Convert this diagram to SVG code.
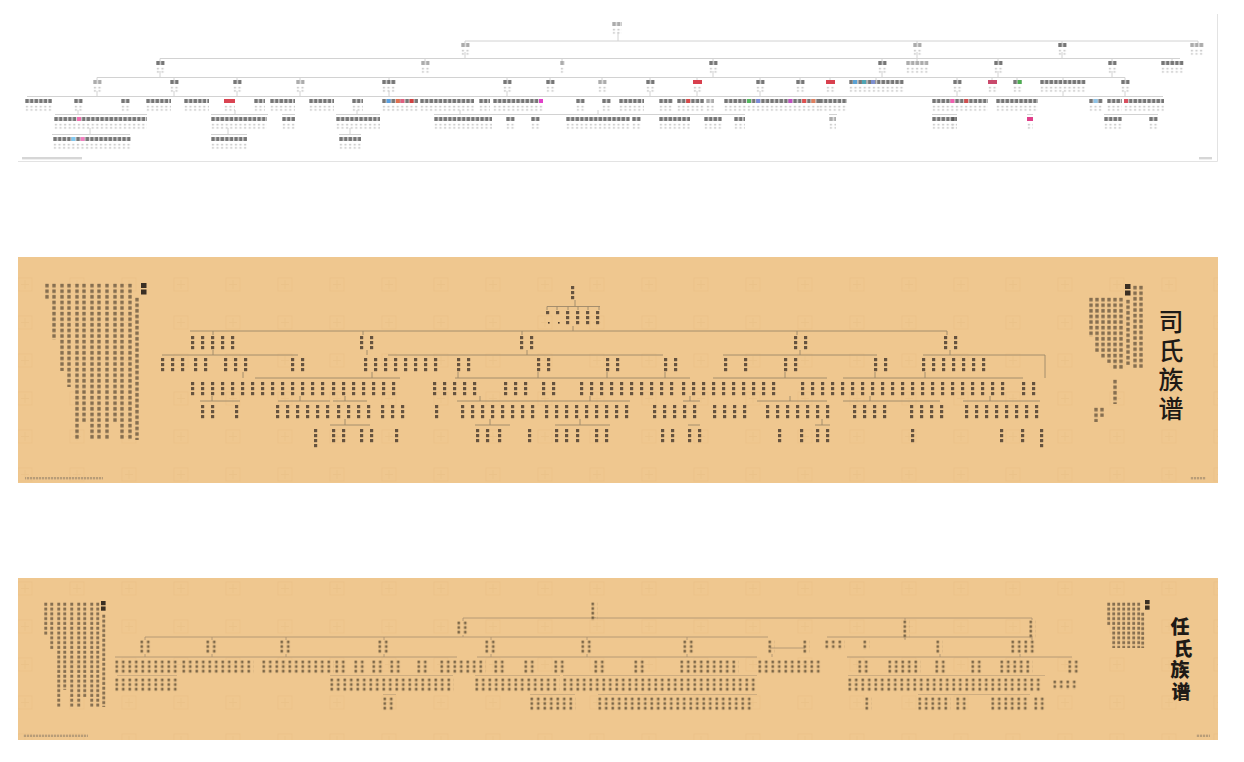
<svg xmlns="http://www.w3.org/2000/svg" width="1244" height="762" viewBox="0 0 1244 762">
<defs>
<style>
.l1{stroke:#d2d2d2;stroke-width:1;fill:none}
.l2{stroke:#9c8869;stroke-width:0.9;fill:none}
.l3{stroke:#a8916f;stroke-width:0.8;fill:none}
.nm{fill:url(#p1n)}
.ng{fill:url(#p1g)}
.sb{fill:url(#p1s)}
.c2{fill:url(#p2)}
.c3{fill:url(#p3)}
.tx{fill:url(#ptx)}
.tx3{fill:url(#ptx3)}
.hd{fill:#3a2f24}
.ft{fill:url(#pft)}
.ttl{font-family:"Liberation Sans","Noto Sans CJK SC","Noto Sans CJK JP",sans-serif;fill:#1e1a16}
</style>
<pattern id="p1n" width="4.6" height="6" patternUnits="userSpaceOnUse"><rect x="0.3" y="0" width="3.6" height="4" fill="#555555" opacity="0.8"/></pattern>
<pattern id="p1g" width="4.6" height="6" patternUnits="userSpaceOnUse"><rect x="0.3" y="0" width="3.6" height="4" fill="#acacac"/></pattern>
<pattern id="p1s" width="4.6" height="3.2" patternUnits="userSpaceOnUse"><rect x="0.8" y="0.6" width="2.2" height="1.4" fill="#c9c9c9"/></pattern>
<pattern id="p2" width="10" height="5" patternUnits="userSpaceOnUse"><rect x="1" y="1" width="3.2" height="3.2" fill="#43362a" opacity="0.8"/></pattern>
<pattern id="p3" width="6.5" height="4.6" patternUnits="userSpaceOnUse"><rect x="0.5" y="0.6" width="2.5" height="2.7" fill="#54452f" opacity="0.75"/></pattern>
<pattern id="ptx" width="8" height="5.6" patternUnits="userSpaceOnUse"><rect x="0.3" y="0.8" width="3.4" height="3.6" fill="#3f3327" opacity="0.6"/></pattern>
<pattern id="ptx3" width="6" height="4.8" patternUnits="userSpaceOnUse"><rect x="0.3" y="0.7" width="2.9" height="3" fill="#3f3327" opacity="0.6"/></pattern>
<pattern id="pft" width="3" height="3" patternUnits="userSpaceOnUse"><rect x="0" y="0" width="2.2" height="2.4" fill="#8a7a66" opacity="0.55"/></pattern>
<pattern id="wm" width="52" height="38" patternUnits="userSpaceOnUse"><rect x="18" y="12" width="14" height="13" fill="none" stroke="#dcae72" stroke-width="1.1" opacity="0.2"/><path d="M21 18.5H29M25 14V23" stroke="#dcae72" stroke-width="1" opacity="0.2"/></pattern>
</defs>
<rect width="1244" height="762" fill="#ffffff"/>

<!-- ===================== PANEL 1 (white chart) ===================== -->
<g id="panel1">
<path d="M18 161.5H1217.5V14" stroke="#e3e3e3" stroke-width="1" fill="none"/>
<g id="p1-connectors">
<path class="l1" d="M618 32V41 M465 41H1198 M465 41V43 M917 41V43 M1062 41V43 M1198 41V43 M465 52V58.5 M917 52V58.5 M1062 52V58.5 M160 58.5H1180 M160 58.5V61 M425 58.5V61 M562 58.5V61 M713 58.5V61 M882 58.5V61 M917 58.5V61 M998 58.5V61 M1112 58.5V61 M1172 58.5V61 M160 71V77.5 M713 71V77.5 M882 71V77.5 M998 71V77.5 M1112 71V77.5 M97 77.5H1125 M97 77.5V80 M174 77.5V80 M237 77.5V80 M300 77.5V80 M389 77.5V80 M507 77.5V80 M550 77.5V80 M602 77.5V80 M650 77.5V80 M697 77.5V80 M760 77.5V80 M800 77.5V80 M830 77.5V80 M876 77.5V80 M957 77.5V80 M992 77.5V80 M1017 77.5V80 M1063 77.5V80 M1125 77.5V80 M27 96.5H1163 M97 91V96.5 M174 91V96.5 M237 91V96.5 M300 91V96.5 M389 91V96.5 M507 91V96.5 M650 91V96.5 M697 91V96.5 M760 91V96.5 M957 91V96.5 M1063 91V96.5 M1125 91V96.5 M55 114.5H147 M211 114.5H268 M282 114.5H295 M336 114.5H380 M434 114.5H745 M829 114.5H837 M932 114.5H957 M1027 114.5H1033 M1104 114.5H1158 M78 110V114.5 M235 110V114.5 M357 110V114.5 M460 110V114.5 M598 110V114.5 M52 134.5H130 M211 134.5H247 M339 134.5H361 M90 128V134.5 M228 128V134.5 M350 128V134.5"/>
</g>
<g id="p1-l0"><g id="n-root" transform="translate(612,22)"><rect class="ng" width="10" height="4"/><rect class="sb" y="6" width="10" height="7"/></g></g>
<g id="p1-l1">
<g id="n1a" transform="translate(461,43)"><rect class="ng" width="9" height="4"/><rect class="sb" y="6" width="9" height="7"/></g>
<g id="n1b" transform="translate(913,43)"><rect class="ng" width="9" height="4"/><rect class="sb" y="6" width="9" height="7"/></g>
<g id="n1c" transform="translate(1058,43)"><rect class="nm" width="9" height="4"/><rect class="sb" y="6" width="9" height="7"/></g>
<g id="n1d" transform="translate(1190,43)"><rect class="ng" width="14" height="4"/><rect class="sb" y="6" width="14" height="7"/></g>
</g>
<g id="p1-l2">
<g transform="translate(156,61)"><rect class="nm" width="9" height="4"/><rect class="sb" y="6" width="9" height="7"/></g>
<g transform="translate(421,61)"><rect class="ng" width="9" height="4"/><rect class="sb" y="6" width="9" height="7"/></g>
<g transform="translate(560,61)"><rect class="ng" width="4.6" height="4"/><rect class="sb" y="6" width="4.6" height="7"/></g>
<g transform="translate(709,61)"><rect class="nm" width="9" height="4"/><rect class="sb" y="6" width="9" height="7"/></g>
<g transform="translate(878,61)"><rect class="nm" width="9" height="4"/><rect class="sb" y="6" width="9" height="7"/></g>
<g transform="translate(906,61)"><rect class="ng" width="23" height="4"/><rect class="sb" y="6" width="23" height="7"/></g>
<g transform="translate(994,61)"><rect class="nm" width="9" height="4"/><rect class="sb" y="6" width="9" height="7"/></g>
<g transform="translate(1108,61)"><rect class="nm" width="9" height="4"/><rect class="sb" y="6" width="9" height="7"/></g>
<g transform="translate(1161,61)"><rect class="nm" width="23" height="4"/><rect class="sb" y="6" width="23" height="7"/></g>
</g>
<g id="p1-l3">
<g transform="translate(93,80)"><rect class="ng" width="9" height="4"/><rect class="sb" y="6" width="9" height="7"/></g>
<g transform="translate(170,80)"><rect class="nm" width="9" height="4"/><rect class="sb" y="6" width="9" height="7"/></g>
<g transform="translate(233,80)"><rect class="nm" width="9" height="4"/><rect class="sb" y="6" width="9" height="7"/></g>
<g transform="translate(296,80)"><rect class="ng" width="9" height="4"/><rect class="sb" y="6" width="9" height="7"/></g>
<g transform="translate(382,80)"><rect class="nm" width="14" height="4"/><rect class="sb" y="6" width="14" height="7"/></g>
<g transform="translate(503,80)"><rect class="nm" width="9" height="4"/><rect class="sb" y="6" width="9" height="7"/></g>
<g transform="translate(546,80)"><rect class="nm" width="9" height="4"/><rect class="sb" y="6" width="9" height="7"/></g>
<g transform="translate(598,80)"><rect class="ng" width="9" height="4"/><rect class="sb" y="6" width="9" height="7"/></g>
<g transform="translate(646,80)"><rect class="nm" width="9" height="4"/><rect class="sb" y="6" width="9" height="7"/></g>
<g transform="translate(693,80)"><rect width="9" height="4" fill="#d8404e"/><rect class="sb" y="6" width="9" height="7"/></g>
<g transform="translate(756,80)"><rect class="nm" width="9" height="4"/><rect class="sb" y="6" width="9" height="7"/></g>
<g transform="translate(796,80)"><rect class="nm" width="9" height="4"/><rect class="sb" y="6" width="9" height="7"/></g>
<g transform="translate(826,80)"><rect width="9" height="4" fill="#d8404e"/><rect class="sb" y="6" width="9" height="7"/></g>
<g transform="translate(849,80)"><rect class="nm" width="55" height="4"/><rect x="4" width="4" height="4" fill="#5aa3d6"/><rect x="13" width="4" height="4" fill="#4fa6b5"/><rect x="22" width="4" height="4" fill="#7d8fd0"/><rect class="sb" y="6" width="55" height="7"/></g>
<g transform="translate(953,80)"><rect class="nm" width="9" height="4"/><rect class="sb" y="6" width="9" height="7"/></g>
<g transform="translate(988,80)"><rect width="9" height="4" fill="#c94a6c"/><rect class="sb" y="6" width="9" height="7"/></g>
<g transform="translate(1013,80)"><rect class="nm" width="9" height="4"/><rect x="4.6" width="4" height="4" fill="#4caf50"/><rect class="sb" y="6" width="9" height="7"/></g>
<g transform="translate(1040,80)"><rect class="nm" width="46" height="4"/><rect class="sb" y="6" width="46" height="7"/></g>
<g transform="translate(1121,80)"><rect class="nm" width="9" height="4"/><rect class="sb" y="6" width="9" height="7"/></g>
</g>
<g id="p1-l4">
<g transform="translate(25,99)"><rect class="nm" width="27" height="4"/><rect class="sb" y="6" width="27" height="7"/></g>
<g transform="translate(74,99)"><rect class="nm" width="9" height="4"/><rect class="sb" y="6" width="9" height="7"/></g>
<g transform="translate(121,99)"><rect class="nm" width="9" height="4"/><rect class="sb" y="6" width="9" height="7"/></g>
<g transform="translate(146,99)"><rect class="nm" width="25" height="4"/><rect class="sb" y="6" width="25" height="7"/></g>
<g transform="translate(184,99)"><rect class="nm" width="25" height="4"/><rect class="sb" y="6" width="25" height="7"/></g>
<g transform="translate(224,99)"><rect width="11" height="4" fill="#d94452"/><rect class="sb" y="6" width="11" height="7"/></g>
<g transform="translate(254,99)"><rect class="nm" width="11" height="4"/><rect class="sb" y="6" width="11" height="7"/></g>
<g transform="translate(270,99)"><rect class="nm" width="25" height="4"/><rect class="sb" y="6" width="25" height="7"/></g>
<g transform="translate(309,99)"><rect class="nm" width="25" height="4"/><rect class="sb" y="6" width="25" height="7"/></g>
<g transform="translate(352,99)"><rect class="nm" width="11" height="4"/><rect class="sb" y="6" width="11" height="7"/></g>
<g transform="translate(382,99)"><rect class="nm" width="36" height="4"/><rect x="4.6" width="4" height="4" fill="#5aa0e0"/><rect x="13.8" width="4" height="4" fill="#e07050"/><rect x="18.4" width="4" height="4" fill="#e06080"/><rect x="27.6" width="4" height="4" fill="#d04040"/><rect class="sb" y="6" width="36" height="7"/></g>
<g transform="translate(420,99)"><rect class="nm" width="54" height="4"/><rect class="sb" y="6" width="54" height="7"/></g>
<g transform="translate(479,99)"><rect class="nm" width="11" height="4"/><rect class="sb" y="6" width="11" height="7"/></g>
<g transform="translate(493,99)"><rect class="nm" width="50" height="4"/><rect x="46" width="4" height="4" fill="#e040c8"/><rect class="sb" y="6" width="50" height="7"/></g>
<g transform="translate(576,99)"><rect class="nm" width="9" height="4"/><rect class="sb" y="6" width="9" height="7"/></g>
<g transform="translate(602,99)"><rect class="nm" width="9" height="4"/><rect class="sb" y="6" width="9" height="7"/></g>
<g transform="translate(619,99)"><rect class="nm" width="25" height="4"/><rect class="sb" y="6" width="25" height="7"/></g>
<g transform="translate(659,99)"><rect class="nm" width="14" height="4"/><rect class="sb" y="6" width="14" height="7"/></g>
<g transform="translate(677,99)"><rect class="nm" width="27" height="4"/><rect x="9.2" width="4" height="4" fill="#d84a4a"/><rect class="sb" y="6" width="27" height="7"/></g>
<g transform="translate(706,99)"><rect class="ng" width="8" height="4"/><rect class="sb" y="6" width="8" height="7"/></g>
<g transform="translate(724,99)"><rect class="nm" width="96" height="4"/><rect x="23" width="4" height="4" fill="#55b860"/><rect x="32.2" width="4" height="4" fill="#7a8ad8"/><rect x="64.4" width="4" height="4" fill="#c050c0"/><rect x="78.2" width="4" height="4" fill="#e05050"/><rect x="87.4" width="4" height="4" fill="#e08060"/><rect class="sb" y="6" width="96" height="7"/></g>
<g transform="translate(819,99)"><rect class="nm" width="28" height="4"/><rect class="sb" y="6" width="28" height="7"/></g>
<g transform="translate(932,99)"><rect class="nm" width="56" height="4"/><rect x="18.4" width="4" height="4" fill="#f060b0"/><rect x="32.2" width="4" height="4" fill="#d05050"/><rect class="sb" y="6" width="56" height="7"/></g>
<g transform="translate(996,99)"><rect class="nm" width="42" height="4"/><rect class="sb" y="6" width="42" height="7"/></g>
<g transform="translate(1089,99)"><rect class="nm" width="14" height="4"/><rect x="4.6" width="4" height="4" fill="#8fc4e8"/><rect class="sb" y="6" width="14" height="7"/></g>
<g transform="translate(1107,99)"><rect class="nm" width="15" height="4"/><rect class="sb" y="6" width="15" height="7"/></g>
<g transform="translate(1124,99)"><rect class="nm" width="40" height="4"/><rect x="0" width="4" height="4" fill="#d85060"/><rect class="sb" y="6" width="40" height="7"/></g>
</g>
<g id="p1-l5">
<g transform="translate(54,117)"><rect class="nm" width="93" height="4"/><rect x="23" width="4" height="4" fill="#f070b0"/><rect class="sb" y="6" width="93" height="7"/></g>
<g transform="translate(211,117)"><rect class="nm" width="56" height="4"/><rect class="sb" y="6" width="56" height="7"/></g>
<g transform="translate(282,117)"><rect class="nm" width="13" height="4"/><rect class="sb" y="6" width="13" height="7"/></g>
<g transform="translate(336,117)"><rect class="nm" width="44" height="4"/><rect class="sb" y="6" width="44" height="7"/></g>
<g transform="translate(434,117)"><rect class="nm" width="58" height="4"/><rect class="sb" y="6" width="58" height="7"/></g>
<g transform="translate(506,117)"><rect class="nm" width="9" height="4"/><rect class="sb" y="6" width="9" height="7"/></g>
<g transform="translate(531,117)"><rect class="nm" width="9" height="4"/><rect class="sb" y="6" width="9" height="7"/></g>
<g transform="translate(566,117)"><rect class="nm" width="64" height="4"/><rect class="sb" y="6" width="64" height="7"/></g>
<g transform="translate(632,117)"><rect class="nm" width="9" height="4"/><rect class="sb" y="6" width="9" height="7"/></g>
<g transform="translate(659,117)"><rect class="nm" width="31" height="4"/><rect class="sb" y="6" width="31" height="7"/></g>
<g transform="translate(704,117)"><rect class="nm" width="18" height="4"/><rect class="sb" y="6" width="18" height="7"/></g>
<g transform="translate(734,117)"><rect class="nm" width="11" height="4"/><rect class="sb" y="6" width="11" height="7"/></g>
<g transform="translate(829,117)"><rect class="ng" width="7" height="4"/><rect class="sb" y="6" width="7" height="7"/></g>
<g transform="translate(932,117)"><rect class="nm" width="25" height="4"/><rect class="sb" y="6" width="25" height="7"/></g>
<g transform="translate(951,117)"><rect class="nm" width="5" height="4"/><rect class="sb" y="6" width="5" height="7"/></g>
<g transform="translate(1027,117)"><rect width="6" height="4" fill="#e0408a"/><rect class="sb" y="6" width="6" height="7"/></g>
<g transform="translate(1104,117)"><rect class="nm" width="18" height="4"/><rect class="sb" y="6" width="18" height="7"/></g>
<g transform="translate(1149,117)"><rect class="nm" width="9" height="4"/><rect class="sb" y="6" width="9" height="7"/></g>
</g>
<g id="p1-l6">
<g transform="translate(53,137)"><rect class="nm" width="78" height="4"/><rect x="18.4" width="4" height="4" fill="#80c8f0"/><rect x="27.6" width="4" height="4" fill="#f080c0"/><rect class="sb" y="6" width="78" height="7"/></g>
<g transform="translate(211,137)"><rect class="nm" width="36" height="4"/><rect class="sb" y="6" width="36" height="7"/></g>
<g transform="translate(339,137)"><rect class="nm" width="22" height="4"/><rect class="sb" y="6" width="22" height="7"/></g>
</g>
<rect x="22" y="157" width="60" height="2.4" fill="#d6d6d6"/>
<rect x="1199" y="157" width="13" height="2.4" fill="#d6d6d6"/>
</g>

<!-- ===================== PANEL 2 (司氏族谱) ===================== -->
<g id="panel2">
<rect x="18" y="257" width="1200" height="226" fill="#efc78f"/>
<rect x="18" y="257" width="1200" height="226" fill="url(#wm)"/>
<g id="p2-connectors">
<path class="l2" d="M575 300V306.5 M547 306.5H600 M547 306.5V310 M557 306.5V310 M568 306.5V310 M578 306.5V310 M588 306.5V310 M599 306.5V310 M573 326V331 M190 331H947 M213 331V335 M363 331V335 M522 331V335 M797 331V335 M947 331V335 M213 350V355 M162 355H298 M367 350V355 M388 355H663 M527 350V355 M800 350V355 M723 355H877 M950 350V355 M923 355H1045 M243 372V378 M255 378H400 M455 378H690 M713 378H827 M843 378H1023 M1045 355V378 M372 372V378 M458 372V378 M538 372V378 M607 372V378 M665 372V378 M785 372V378 M875 372V378 M925 372V378 M200 401H240 M278 401H330 M333 401H367 M457 401H630 M683 401H700 M757 401H827 M843 401H940 M963 401H1040 M212 396V401 M300 396V401 M345 396V401 M480 396V401 M590 396V401 M690 396V401 M790 396V401 M870 396V401 M990 396V401 M330 425H370 M475 425H510 M555 425H610 M688 425H700 M815 425H830 M345 419V425 M490 419V425 M580 419V425 M822 419V425"/>
</g>
<g id="p2-root"><rect class="c2" transform="translate(570 285)" width="10" height="15"/></g>
<g id="p2-rc">
<rect class="c2" transform="translate(545 310)" width="20" height="5"/>
<rect x="548" y="322" width="1.6" height="1.6" fill="#43362a"/><rect x="558" y="322" width="1.6" height="1.6" fill="#43362a"/>
<rect class="c2" transform="translate(565 310)" width="40" height="15"/>
</g>
<g id="p2-l1">
<rect class="c2" transform="translate(190 335)" width="50" height="15"/>
<rect class="c2" transform="translate(359 335)" width="20" height="15"/>
<rect class="c2" transform="translate(519 335)" width="20" height="15"/>
<rect class="c2" transform="translate(793 335)" width="20" height="15"/>
<rect class="c2" transform="translate(943 335)" width="20" height="15"/>
</g>
<g id="p2-l2">
<rect class="c2" transform="translate(160 357)" width="30" height="15"/>
<rect class="c2" transform="translate(193 357)" width="20" height="15"/>
<rect class="c2" transform="translate(223 357)" width="30" height="15"/>
<rect class="c2" transform="translate(290 357)" width="20" height="15"/>
<rect class="c2" transform="translate(363 357)" width="80" height="15"/>
<rect class="c2" transform="translate(456 357)" width="20" height="15"/>
<rect class="c2" transform="translate(536 357)" width="20" height="15"/>
<rect class="c2" transform="translate(605 357)" width="20" height="15"/>
<rect class="c2" transform="translate(663 357)" width="20" height="15"/>
<rect class="c2" transform="translate(723 357)" width="10" height="15"/>
<rect class="c2" transform="translate(743 357)" width="10" height="15"/>
<rect class="c2" transform="translate(783 357)" width="20" height="15"/>
<rect class="c2" transform="translate(873 357)" width="20" height="15"/>
<rect class="c2" transform="translate(921 357)" width="70" height="15"/>
</g>
<g id="p2-l3">
<rect class="c2" transform="translate(190 381)" width="140" height="15"/>
<rect class="c2" transform="translate(331 381)" width="70" height="15"/>
<rect class="c2" transform="translate(432 381)" width="50" height="15"/>
<rect class="c2" transform="translate(503 381)" width="30" height="15"/>
<rect class="c2" transform="translate(541 381)" width="20" height="15"/>
<rect class="c2" transform="translate(579 381)" width="100" height="15"/>
<rect class="c2" transform="translate(681 381)" width="100" height="15"/>
<rect class="c2" transform="translate(800 381)" width="210" height="15"/>
<rect class="c2" transform="translate(1021 381)" width="20" height="15"/>
</g>
<g id="p2-l4">
<rect class="c2" transform="translate(200 404)" width="20" height="15"/>
<rect class="c2" transform="translate(234 404)" width="10" height="15"/>
<rect class="c2" transform="translate(275 404)" width="60" height="15"/>
<rect class="c2" transform="translate(336 404)" width="40" height="15"/>
<rect class="c2" transform="translate(380 404)" width="30" height="15"/>
<rect class="c2" transform="translate(434 404)" width="10" height="15"/>
<rect class="c2" transform="translate(460 404)" width="80" height="15"/>
<rect class="c2" transform="translate(544 404)" width="90" height="15"/>
<rect class="c2" transform="translate(652 404)" width="30" height="15"/>
<rect class="c2" transform="translate(682 404)" width="20" height="15"/>
<rect class="c2" transform="translate(712 404)" width="40" height="15"/>
<rect class="c2" transform="translate(765 404)" width="70" height="15"/>
<rect class="c2" transform="translate(852 404)" width="40" height="15"/>
<rect class="c2" transform="translate(909 404)" width="40" height="15"/>
<rect class="c2" transform="translate(964 404)" width="80" height="15"/>
</g>
<g id="p2-l5">
<rect class="c2" transform="translate(313 428)" width="10" height="20"/>
<rect class="c2" transform="translate(331 428)" width="20" height="15"/>
<rect class="c2" transform="translate(359 428)" width="20" height="15"/>
<rect class="c2" transform="translate(394 428)" width="10" height="15"/>
<rect class="c2" transform="translate(475 428)" width="20" height="15"/>
<rect class="c2" transform="translate(497 428)" width="10" height="15"/>
<rect class="c2" transform="translate(527 428)" width="10" height="15"/>
<rect class="c2" transform="translate(554 428)" width="20" height="15"/>
<rect class="c2" transform="translate(575 428)" width="10" height="15"/>
<rect class="c2" transform="translate(594 428)" width="20" height="15"/>
<rect class="c2" transform="translate(660 428)" width="20" height="15"/>
<rect class="c2" transform="translate(687 428)" width="20" height="15"/>
<rect class="c2" transform="translate(777 428)" width="10" height="15"/>
<rect class="c2" transform="translate(799 428)" width="10" height="15"/>
<rect class="c2" transform="translate(815 428)" width="20" height="15"/>
<rect class="c2" transform="translate(910 428)" width="10" height="15"/>
<rect class="c2" transform="translate(999 428)" width="10" height="15"/>
<rect class="c2" transform="translate(1020 428)" width="10" height="15"/>
<rect class="c2" transform="translate(1039 428)" width="10" height="20"/>
</g>
<g id="p2-intro-left">
<rect class="hd" x="141" y="283" width="5.5" height="5"/><rect class="hd" x="141" y="289.5" width="5.5" height="5"/>
<rect class="tx" transform="translate(45 283)" width="5" height="17"/>
<rect class="tx" transform="translate(52 283)" width="5" height="57"/>
<rect class="tx" transform="translate(60 283)" width="5" height="88"/>
<rect class="tx" transform="translate(67 283)" width="5" height="104"/>
<rect class="tx" transform="translate(75 283)" width="5" height="157"/>
<rect class="tx" transform="translate(82 283)" width="5" height="140"/>
<rect class="tx" transform="translate(90 283)" width="5" height="157"/>
<rect class="tx" transform="translate(97 283)" width="5" height="157"/>
<rect class="tx" transform="translate(105 283)" width="5" height="157"/>
<rect class="tx" transform="translate(113 283)" width="5" height="140"/>
<rect class="tx" transform="translate(120 283)" width="5" height="157"/>
<rect class="tx" transform="translate(128 283)" width="5" height="157"/>
<rect class="tx" transform="translate(135 297)" width="5" height="143"/>
</g>
<g id="p2-intro-right">
<rect class="hd" x="1125" y="284" width="5.5" height="5"/><rect class="hd" x="1125" y="290.5" width="5.5" height="5"/>
<rect class="tx" transform="translate(1089 297)" width="4" height="40"/>
<rect class="tx" transform="translate(1095 297)" width="4" height="55"/>
<rect class="tx" transform="translate(1101 297)" width="4" height="61"/>
<rect class="tx" transform="translate(1107 297)" width="4" height="66"/>
<rect class="tx" transform="translate(1113 297)" width="4" height="72"/>
<rect class="tx" transform="translate(1119 297)" width="4" height="72"/>
<rect class="tx" transform="translate(1126 299)" width="4" height="66"/>
<rect class="tx" transform="translate(1133 285)" width="4" height="83"/>
<rect class="tx" transform="translate(1139 285)" width="4" height="83"/>
<rect class="tx" transform="translate(1113 379)" width="4" height="25"/>
<rect class="tx" transform="translate(1094 407)" width="4" height="15"/>
<rect class="tx" transform="translate(1100 407)" width="4" height="10"/>
</g>
<text id="title-si" class="ttl" font-size="25" font-weight="500" text-anchor="middle"><tspan x="1171" y="331">司</tspan><tspan x="1171" y="360">氏</tspan><tspan x="1171" y="389">族</tspan><tspan x="1171" y="418">谱</tspan></text>
<rect class="ft" x="25" y="477" width="78" height="3"/>
<rect class="ft" x="1190" y="477" width="16" height="3"/>
</g>

<!-- ===================== PANEL 3 (任氏族谱) ===================== -->
<g id="panel3">
<rect x="18" y="578" width="1200" height="162" fill="#efc78f"/>
<rect x="18" y="578" width="1200" height="162" fill="url(#wm)"/>
<g id="p3-connectors">
<path class="l3" d="M595 617V618 M463 618H1032 M463 618V621 M905 618V620 M1032 618V620 M463 635V637 M905 638V640 M1032 638V640 M145 637H768 M827 637H1033 M770 648H805 M145 637V640 M212 637V640 M286 637V640 M384 637V640 M491 637V640 M587 637V640 M687 637V640 M115 657H457 M477 657H757 M847 657H1072 M145 654V657 M212 654V657 M286 654V657 M384 654V657 M491 654V657 M587 654V657 M687 654V657 M772 654V657 M940 654V657 M1020 654V657"/>
<path class="l3" opacity="0.6" d="M117 675.5H177 M330 675.5H453 M475 675.5H560 M563 675.5H757 M848 675.5H1045 M383 694.5H396 M530 694.5H575 M598 694.5H757 M918 694.5H1030"/>
</g>
<g id="p3-root"><rect class="c3" transform="translate(591 602)" width="6.5" height="18.4"/></g>
<g id="p3-l1">
<rect class="c3" transform="translate(457 621)" width="13" height="13.8"/>
<rect class="c3" transform="translate(903 620)" width="6.5" height="18.4"/>
<rect class="c3" transform="translate(1029 620)" width="6.5" height="18.4"/>
</g>
<g id="p3-l2">
<rect class="c3" transform="translate(140 640)" width="13" height="13.8"/>
<rect class="c3" transform="translate(206 640)" width="13" height="13.8"/>
<rect class="c3" transform="translate(280 640)" width="13" height="13.8"/>
<rect class="c3" transform="translate(378 640)" width="13" height="13.8"/>
<rect class="c3" transform="translate(485 640)" width="13" height="13.8"/>
<rect class="c3" transform="translate(581 640)" width="13" height="13.8"/>
<rect class="c3" transform="translate(683 640)" width="13" height="13.8"/>
<rect class="c3" transform="translate(768 640)" width="6.5" height="13.8"/>
<rect class="c3" transform="translate(803 640)" width="6.5" height="13.8"/>
<rect class="c3" transform="translate(825 640)" width="19.5" height="9.2"/>
<rect class="c3" transform="translate(863 640)" width="6.5" height="9.2"/>
<rect class="c3" transform="translate(936 640)" width="6.5" height="13.8"/>
<rect class="c3" transform="translate(1011 640)" width="26" height="13.8"/>
</g>
<g id="p3-l3">
<rect class="c3" transform="translate(115 660)" width="65" height="13.8"/>
<rect class="c3" transform="translate(182 660)" width="71.5" height="13.8"/>
<rect class="c3" transform="translate(262 660)" width="71.5" height="13.8"/>
<rect class="c3" transform="translate(335 660)" width="13" height="13.8"/>
<rect class="c3" transform="translate(354 660)" width="13" height="13.8"/>
<rect class="c3" transform="translate(372 660)" width="13" height="13.8"/>
<rect class="c3" transform="translate(390 660)" width="13" height="13.8"/>
<rect class="c3" transform="translate(417 660)" width="13" height="13.8"/>
<rect class="c3" transform="translate(440 660)" width="45.5" height="13.8"/>
<rect class="c3" transform="translate(494 660)" width="13" height="13.8"/>
<rect class="c3" transform="translate(524 660)" width="13" height="13.8"/>
<rect class="c3" transform="translate(554 660)" width="13" height="13.8"/>
<rect class="c3" transform="translate(594 660)" width="13" height="13.8"/>
<rect class="c3" transform="translate(634 660)" width="13" height="13.8"/>
<rect class="c3" transform="translate(680 660)" width="58.5" height="13.8"/>
<rect class="c3" transform="translate(758 660)" width="65" height="13.8"/>
<rect class="c3" transform="translate(858 660)" width="13" height="13.8"/>
<rect class="c3" transform="translate(888 660)" width="32.5" height="13.8"/>
<rect class="c3" transform="translate(935 660)" width="13" height="13.8"/>
<rect class="c3" transform="translate(971 660)" width="13" height="13.8"/>
<rect class="c3" transform="translate(1000 660)" width="32.5" height="13.8"/>
<rect class="c3" transform="translate(1068 660)" width="13" height="13.8"/>
</g>
<g id="p3-l4">
<rect class="c3" transform="translate(115 678)" width="65" height="13.8"/>
<rect class="c3" transform="translate(330 678)" width="123.5" height="13.8"/>
<rect class="c3" transform="translate(475 678)" width="84.5" height="13.8"/>
<rect class="c3" transform="translate(563 678)" width="195" height="13.8"/>
<rect class="c3" transform="translate(848 678)" width="195" height="13.8"/>
<rect class="c3" transform="translate(1053 680)" width="26" height="9.2"/>
</g>
<g id="p3-l5">
<rect class="c3" transform="translate(383 697)" width="13" height="13.8"/>
<rect class="c3" transform="translate(530 697)" width="45.5" height="13.8"/>
<rect class="c3" transform="translate(598 697)" width="156" height="13.8"/>
<rect class="c3" transform="translate(865 697)" width="6.5" height="13.8"/>
<rect class="c3" transform="translate(918 697)" width="32.5" height="13.8"/>
<rect class="c3" transform="translate(956 697)" width="13" height="13.8"/>
<rect class="c3" transform="translate(991 697)" width="39" height="13.8"/>
<rect class="c3" transform="translate(1034 697)" width="13" height="13.8"/>
</g>
<g id="p3-intro-left">
<rect class="hd" x="101" y="601" width="4.6" height="4.2"/><rect class="hd" x="101" y="606.5" width="4.6" height="4.2"/>
<rect class="tx3" transform="translate(44 602)" width="4" height="33"/>
<rect class="tx3" transform="translate(50 602)" width="4" height="48"/>
<rect class="tx3" transform="translate(57 602)" width="4" height="105"/>
<rect class="tx3" transform="translate(63 602)" width="4" height="88"/>
<rect class="tx3" transform="translate(70 602)" width="4" height="105"/>
<rect class="tx3" transform="translate(77 602)" width="4" height="105"/>
<rect class="tx3" transform="translate(83 602)" width="4" height="95"/>
<rect class="tx3" transform="translate(90 602)" width="4" height="105"/>
<rect class="tx3" transform="translate(96 602)" width="4" height="105"/>
<rect class="tx3" transform="translate(102 614)" width="4" height="93"/>
</g>
<g id="p3-intro-right">
<rect class="hd" x="1145" y="600" width="4.6" height="4.2"/><rect class="hd" x="1145" y="605.5" width="4.6" height="4.2"/>
<rect class="tx3" transform="translate(1107 602)" width="3.5" height="24"/>
<rect class="tx3" transform="translate(1112 602)" width="3.5" height="46"/>
<rect class="tx3" transform="translate(1117 602)" width="3.5" height="46"/>
<rect class="tx3" transform="translate(1122 602)" width="3.5" height="46"/>
<rect class="tx3" transform="translate(1127 602)" width="3.5" height="46"/>
<rect class="tx3" transform="translate(1132 602)" width="3.5" height="46"/>
<rect class="tx3" transform="translate(1137 602)" width="3.5" height="46"/>
<rect class="tx3" transform="translate(1141 612)" width="3.5" height="36"/>
</g>
<text id="title-ren" class="ttl" font-size="19" font-weight="900" text-anchor="middle"><tspan x="1180" y="634">任</tspan><tspan x="1183" y="655.5">氏</tspan><tspan x="1180" y="677">族</tspan><tspan x="1181" y="698.5">谱</tspan></text>
<rect class="ft" x="23" y="734" width="65" height="3"/>
<rect class="ft" x="1196" y="734" width="14" height="3"/>
</g>
</svg>
